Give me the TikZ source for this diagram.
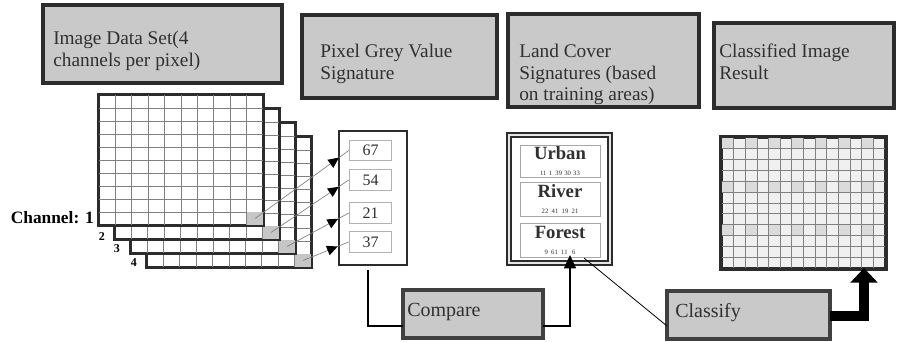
\documentclass[tikz,border=0pt]{standalone}
\usepackage{fontspec}
\setmainfont{Liberation Serif}
\usetikzlibrary{arrows.meta,decorations.markings,calc,fit}

\definecolor{boxfill}{HTML}{C9C9C9}
\definecolor{boxline}{HTML}{2C2C2C}
\definecolor{gridline}{HTML}{808080}
\definecolor{textgrey}{HTML}{303030}

\begin{document}
\begin{tikzpicture}[x=0.75pt,y=-0.75pt,
  titlebox/.style={draw=boxline, line width=2.4pt, fill=boxfill, inner sep=0pt},
  titletext/.style={anchor=north west, inner sep=0pt, align=left,
    font=\fontsize{14.5}{16}\selectfont, text=textgrey},
  actbox/.style={draw=black!75, line width=3pt, fill=boxfill, inner sep=0pt},
  acttext/.style={anchor=base west, inner sep=0pt, font=\fontsize{15}{16}\selectfont, text=textgrey},
  layer/.style={draw=boxline, line width=1.6pt, fill=white, inner sep=0pt},
  layeredge/.style={draw=boxline, line width=1.6pt},
  cellline/.style={draw=gridline, line width=0.6pt},
  chlabel/.style={inner sep=0pt, font=\bfseries\fontsize{9}{9}\selectfont},
  valbox/.style={draw=gray!60, line width=0.6pt, fill=white, minimum width=32pt,
    minimum height=15.5pt, inner sep=0pt, font=\fontsize{12}{12}\selectfont, text=textgrey},
  classbox/.style={draw=gray!70, line width=0.6pt, fill=white, minimum width=60pt,
    align=center, inner sep=1pt, font=\bfseries\fontsize{14}{13}\selectfont, text=textgrey},
  probe/.style={draw=gray, line width=0.5pt, postaction={decorate},
    decoration={markings, mark=at position -9pt with
      {\fill[black] (-8pt,-3.8pt) -- (0pt,0pt) -- (-8pt,3.8pt) -- cycle;}}},
  conn/.style={draw=black, line width=1.1pt}
]
\useasboundingbox (0,0) rectangle (898,342);

% header boxes
\node[titlebox, fit={(43,5) (282,83)}] (hdata) {};
\node[titlebox, fit={(302,15) (497,98)}] (hpix) {};
\node[titlebox, fit={(508,14) (699,107)}] (hland) {};
\node[titlebox, fit={(714,23) (894,108)}] (hres) {};
\node[titletext] (tdata) at (53,31) {Image Data Set(4\\channels per pixel)};
\node[titletext] (tpix) at (320,44) {Pixel Grey Value\\Signature};
\node[titletext] (tland) at (519,44) {Land Cover\\Signatures (based\\on training areas)};
\node[titletext] (tres) at (719,44) {Classified Image\\Result};

% stack of four channel grids, back to front
\foreach \k in {4,3,2,1} {
  \pgfmathsetmacro\ox{99+16*(\k-1)}
  \pgfmathsetmacro\oy{95+14*(\k-1)}
  \node[layer, fit={(\ox,\oy) ({\ox+164},{\oy+130})}] (ch\k) {};
  \foreach \i in {1,...,9}
    \draw[cellline] ({\ox+16.4*\i},\oy) -- ({\ox+16.4*\i},{\oy+130});
  \foreach \j in {1,...,9}
    \draw[cellline] (\ox,{\oy+13*\j}) -- ({\ox+164},{\oy+13*\j});
  \fill[gray!45] ({\ox+147.6},{\oy+117}) rectangle ({\ox+164},{\oy+130});
  \draw[layeredge] (ch\k.north west) rectangle (ch\k.south east);
  \coordinate (px\k) at ({\ox+156},{\oy+123.5});
}
\node[chlabel, anchor=east, font=\bfseries\fontsize{13}{13}\selectfont] (lab1) at (94,218) {Channel: 1};
\node[chlabel] (lab2) at ($(ch2.south west)+(-12,-4)$) {2};
\node[chlabel] (lab3) at ($(ch3.south west)+(-13,-5)$) {3};
\node[chlabel] (lab4) at ($(ch4.south west)+(-12,-6)$) {4};

% pixel grey value signature
\node[layer, line width=2pt, fit={(339,131) (407,265)}] (pix) {};
\node[valbox] (v1) at (370.5,150.5) {67};
\node[valbox] (v2) at (370.5,180) {54};
\node[valbox] (v3) at (370.5,213) {21};
\node[valbox] (v4) at (370.5,242) {37};
\foreach \k in {1,...,4}
  \draw[probe] (px\k) -- (v\k.west);

% land cover signatures
\node[draw=boxline, line width=1.3pt, double=gray!20, double distance=1.2pt, fill=white,
  inner sep=0pt, fit={(509,135) (610,263)}] (land) {};
\node[classbox, minimum height=24pt] (urban) at (560,161) {Urban\\[-1pt]{\mdseries\fontsize{5}{5}\selectfont 11\,\,1\,\,\,39\,\,30\,\,33}};
\node[classbox, minimum height=26pt] (river) at (560,199.5) {River\\[-1pt]{\mdseries\fontsize{5}{5}\selectfont 22\,\,\,41\,\,\,19\,\,\,21}};
\node[classbox, minimum height=26pt] (forest) at (560,240.5) {Forest\\[-1pt]{\mdseries\fontsize{5}{5}\selectfont 9\,\,\,61\,\,\,11\,\,\,\,6}};

% classified image result
\node[layer, fill=gray!12, line width=2.2pt, fit={(722,138) (885,268)}] (result) {};
\foreach \i in {0,...,13}
  \foreach \j in {0,...,11} {
    \pgfmathtruncatemacro\sh{mod(\i*\i+3*\j+\i*\j,4)}
    \ifnum\sh=0
      \fill[gray!28] ({722+11.64*\i},{138+10.83*\j}) rectangle ({722+11.64*(\i+1)},{138+10.83*(\j+1)});
    \fi
  }
\foreach \i in {1,...,13}
  \draw[cellline] ({722+11.64*\i},138) -- ({722+11.64*\i},268);
\foreach \j in {1,...,11}
  \draw[cellline] (722,{138+10.83*\j}) -- (885,{138+10.83*\j});
\draw[layeredge, line width=2.2pt] (result.north west) rectangle (result.south east);

% action boxes
\node[actbox, fit={(403,290) (543,338)}] (cmp) {};
\node[acttext] (tcmp) at (407,316) {Compare};
\node[actbox, fit={(667,291) (830,339)}] (cls) {};
\node[acttext] (tcls) at (675,317) {Classify};

% connectors
\coordinate (cmpin) at (403,326);
\coordinate (cmpout) at (543,326);
\coordinate (fin) at (570,255);
\coordinate (clsin) at (667,326);
\coordinate (clsout) at (830,316);
\coordinate (resin) at (864,268);
\draw[conn] ($(pix.south)+(-5,4)$) |- (cmpin);
\draw[conn, -{Triangle[width=9pt,length=10pt]}] (cmpout) -| (fin);
\draw[draw=black, line width=0.6pt] ($(forest.south west)!0.8!(forest.south east)$) -- (clsin);
\draw[draw=black, line width=7.5pt, -{Triangle[width=20pt,length=11pt]}] (clsout) -| (resin);
\end{tikzpicture}
\end{document}
